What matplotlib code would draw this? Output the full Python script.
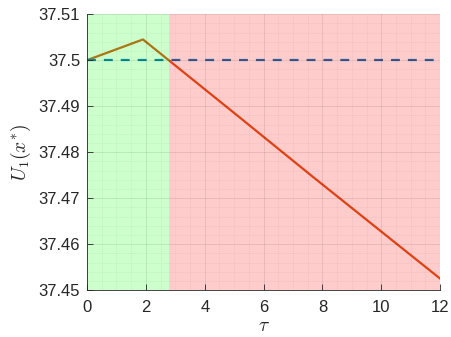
import numpy as np
import matplotlib
matplotlib.use("Agg")
import matplotlib.pyplot as plt
from matplotlib.ticker import MultipleLocator

plt.rcParams['font.family'] = ['Liberation Sans', 'DejaVu Sans']
plt.rcParams['mathtext.fontset'] = 'cm'

# trajectory of U1(x*) over tau
tau = [0.0, 1.9, 5.1, 7.7, 12.0]
u1 = [37.5, 37.5045, 37.4880, 37.4745, 37.4525]

# reference level
ref_tau = [0.0, 12.0]
ref_u = [37.5, 37.5]

# shaded regions (start, end)
green_span = (0.0, 2.8)
red_span = (2.8, 12.0)

blue = '#0072BD'
orange = '#D95319'
txt = '#262626'

fig = plt.figure(figsize=(4.51, 3.37), dpi=100)
ax = fig.add_axes([0.193, 0.139, 0.783, 0.819])

ax.plot(tau, u1, color=orange, lw=1.6, zorder=1)
ax.plot(ref_tau, ref_u, color=blue, lw=1.6, ls=(0, (4.0, 3.6)), zorder=1)

ax.axvspan(*green_span, color=(0, 1, 0), alpha=0.2, lw=0, zorder=2)
ax.axvspan(*red_span, color=(1, 0, 0), alpha=0.2, lw=0, zorder=2)

ax.set_xlim(0, 12)
ax.set_ylim(37.45, 37.51)
ax.xaxis.set_major_locator(MultipleLocator(2))
ax.xaxis.set_minor_locator(MultipleLocator(0.5))
ax.yaxis.set_major_locator(MultipleLocator(0.01))
ax.yaxis.set_minor_locator(MultipleLocator(0.002))
ax.set_yticks([37.45, 37.46, 37.47, 37.48, 37.49, 37.5, 37.51])
ax.set_yticklabels(['37.45', '37.46', '37.47', '37.48', '37.49', '37.5', '37.51'])

ax.set_axisbelow(False)
ax.grid(True, which='major', color='#000000', alpha=0.1, lw=0.6)
ax.grid(True, which='minor', color='#000000', alpha=0.1, lw=0.5, ls=':')

for s in ['top', 'right']:
    ax.spines[s].set_visible(False)
for s in ['left', 'bottom']:
    ax.spines[s].set_color(txt)
    ax.spines[s].set_linewidth(0.6)
    ax.spines[s].set_zorder(3)

ax.tick_params(which='both', direction='in', colors=txt, labelsize=12, width=0.6)
ax.tick_params(which='major', length=4)
ax.tick_params(which='minor', length=0)
ax.tick_params(axis='x', pad=7)
ax.tick_params(axis='y', pad=5)

ax.set_xlabel(r'$\tau$', fontsize=14, color=txt, labelpad=2)
ax.set_ylabel(r'$U_1(x^{*})$', fontsize=14, color=txt, labelpad=4)

fig.savefig('out.png', dpi=100)
